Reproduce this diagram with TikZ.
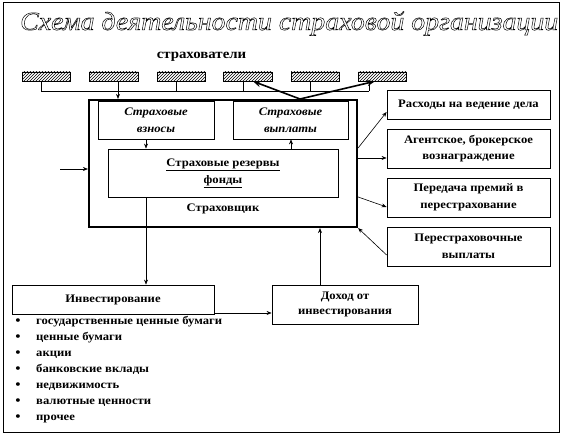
\documentclass[tikz,border=0pt]{standalone}
\usepackage{fontspec}
\setmainfont{Liberation Serif}[FakeStretch=1.1]
\usepackage{graphicx}
\usetikzlibrary{arrows.meta,patterns}
\tikzset{
  box/.style={draw, line width=0.8pt, inner sep=0pt, align=center, font=\fontsize{11.5}{16.5}\selectfont\bfseries},
  hbox/.style={draw, line width=0.6pt, inner sep=0pt, minimum height=9pt, pattern=north east lines},
  arr/.style={-{Stealth[length=5pt,width=4pt]}, line width=0.6pt},
  bigarr/.style={-{Stealth[length=8pt,width=6pt]}, line width=1.6pt},
  item/.style={anchor=base west, inner sep=0pt, font=\fontsize{11.5}{12}\selectfont\bfseries},
  bul/.style={anchor=base, inner sep=0pt, font=\fontsize{15}{15}\selectfont}
}
\begin{document}
\begin{tikzpicture}[x=1pt,y=-1pt]
\useasboundingbox (0,0) rectangle (563,435);
% outer frame
\draw[line width=0.9pt] (3,2) rectangle (559,432);
% title
\node[anchor=base west, inner sep=0pt] (title) at (20,30)
  {\resizebox{538pt}{\height}{\fontsize{26}{26}\selectfont\itshape\special{pdf:literal direct q 1 Tr 0.5 w}Схема деятельности страховой организации\special{pdf:literal direct Q}}};
% insured
\node[inner sep=0pt, font=\fontsize{13.5}{14}\selectfont\bfseries] (insured) at (201.5,57) {страхователи};
\node[hbox, minimum width=48pt] (h1) at (46,76.5) {};
\node[hbox, minimum width=49pt] (h2) at (113.5,76.5) {};
\node[hbox, minimum width=48pt] (h3) at (181,76.5) {};
\node[hbox, minimum width=49pt] (h4) at (247.5,76.5) {};
\node[hbox, minimum width=48pt] (h5) at (315,76.5) {};
\node[hbox, minimum width=48pt] (h6) at (382,76.5) {};
\coordinate (d1) at (41,91);
\coordinate (d2) at (118,91);
\coordinate (d3) at (176,91);
\coordinate (d4) at (243,91);
\coordinate (d5) at (310,91);
\coordinate (d6) at (369,91);
\draw[line width=0.6pt] (d1) -- (d6);
\foreach \i in {1,...,6}{\draw[line width=0.6pt] (d\i |- h\i.south) -- (d\i);}
% insurer
\node[draw, line width=2.2pt, minimum width=268pt, minimum height=127pt, inner sep=0pt] (insurer) at (223,163.5) {};
\node[inner sep=0pt, font=\fontsize{11.5}{12}\selectfont\bfseries] (insurerlabel) at (223,209) {Страховщик};
\draw[arr] (d2) -- (d2 |- insurer.north);
\coordinate (apex) at (300,99);
\draw[bigarr] (apex) -- ([xshift=5.5pt]h4.south);
\draw[bigarr] (apex) -- ([xshift=-7pt]h6.south);
% inner boxes
\node[box, minimum width=116pt, minimum height=38pt, font=\fontsize{11.5}{17}\selectfont\bfseries\itshape] (vz) at (156,120) {Страховые\\взносы};
\node[box, minimum width=115pt, minimum height=38pt, font=\fontsize{11.5}{17}\selectfont\bfseries\itshape] (vp) at (290.5,120) {Страховые\\выплаты};
\node[box, minimum width=230pt, minimum height=48pt, font=\fontsize{11.5}{17}\selectfont\bfseries] (fund) at (223,173) {\underline{Страховые резервы}\\\underline{фонды}};
\draw[arr] (vz.south -| 146,0) -- (fund.north -| 146,0);
\draw[arr] (fund.north -| 291,0) -- (vp.south -| 291,0);
\coordinate (leftin) at (60,169);
\draw[arr] (leftin) -- (insurer.west |- leftin);
% investment
\node[box, minimum width=202pt, minimum height=29pt] (invest) at (113,299.5) {Инвестирование};
\node[box, minimum width=146pt, minimum height=39pt, font=\fontsize{11.5}{15}\selectfont\bfseries] (dohod) at (345,304.5) {Доход от\\инвестирования};
\draw[arr] (fund.south -| 146,0) -- (invest.north -| 146,0);
\draw[arr] (invest.east |- 0,313) -- (dohod.west |- 0,313);
\draw[arr] (dohod.north -| 320,0) -- (insurer.south -| 320,0);
% list
\foreach \t [count=\k] in {государственные ценные бумаги, ценные бумаги, акции, банковские вклады, недвижимость, валютные ценности, прочее}{
  \node[bul] (b\k) at (18,{321+16*(\k-1)+4.5}) {•};
  \node[item] (li\k) at (36,{321+16*(\k-1)+3.5}) {\t};
}
% right boxes
\node[box, minimum width=163pt, minimum height=29pt] (r1) at (468.5,104.5) {Расходы на ведение дела};
\node[box, minimum width=163pt, minimum height=39pt] (r2) at (468.5,148.5) {Агентское, брокерское\\вознаграждение};
\node[box, minimum width=163pt, minimum height=39pt] (r3) at (468.5,197.5) {Передача премий в\\перестрахование};
\node[box, minimum width=163pt, minimum height=39pt] (r4) at (468.5,246.5) {Перестраховочные\\выплаты};
\draw[arr] (insurer.east |- 0,148) -- (r1.west |- 0,112);
\draw[arr] (insurer.east |- 0,158) -- (r2.west |- 0,158);
\draw[arr] (insurer.east |- 0,197) -- (r3.west |- 0,207);
\draw[arr] (r4.west |- 0,255) -- (insurer.south east);
\end{tikzpicture}
\end{document}
